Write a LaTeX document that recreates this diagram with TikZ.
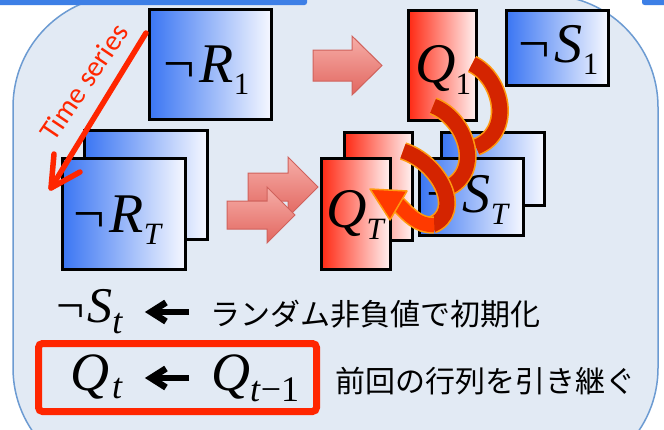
\documentclass[tikz,border=0pt]{standalone}
\usepackage{fontspec}
\setmainfont{Liberation Serif}
\newfontfamily\jpfont{Noto Sans CJK JP}
\newfontfamily\tsfont{Carlito}
\usetikzlibrary{arrows.meta}
\definecolor{bgc}{HTML}{E2EAF4}
\definecolor{bdc}{HTML}{6C9BD2}
\definecolor{barblue}{HTML}{3D7FE6}
\definecolor{boxblue}{HTML}{3B76F3}
\definecolor{boxwhite}{HTML}{F6F8FF}
\definecolor{boxred}{HTML}{FF2A14}
\definecolor{boxpink}{HTML}{FFF2F2}
\definecolor{tsred}{HTML}{FF2600}
\definecolor{patop}{HTML}{F6AEA8}
\definecolor{pabot}{HTML}{E2665F}
\definecolor{paedge}{HTML}{D0625C}
\definecolor{ribedge}{HTML}{FF9A10}
\definecolor{ribdark}{HTML}{D42400}
\definecolor{ribbright}{HTML}{FF3A00}
\newcommand\blab[3]{{\fontsize{56}{56}\selectfont #1\textit{#2}\raisebox{-12pt}{\fontsize{31}{31}\selectfont #3}}}
\tikzset{
  bbox/.style={draw=black, line width=3pt, left color=boxblue, right color=boxwhite, inner sep=0pt},
  rbox/.style={draw=black, line width=3pt, left color=boxred, right color=boxpink, inner sep=0pt},
  lbl/.style={anchor=base west, inner sep=0pt},
  parrow/.style={top color=patop, bottom color=pabot, draw=paedge, line width=1pt},
  ribbon/.style={draw=ribedge, line width=1.6pt, double=ribdark, double distance=15pt},
  ribbonb/.style={draw=ribedge, line width=1.6pt, double=ribbright, double distance=14pt},
  tsline/.style={draw=tsred, line width=5.5pt, line cap=round, line join=round},
  blk/.style={draw=black, line width=6.5pt},
  jp/.style={anchor=west, inner sep=0pt, font=\jpfont\fontsize{30}{30}\selectfont},
}
\begin{document}
\begin{tikzpicture}[x=1pt,y=-1pt]
\useasboundingbox (0,0) rectangle (664,429);
\clip (0,0) rectangle (664,429);
\fill[white] (0,0) rectangle (664,429);
\draw[fill=bgc, draw=bdc, line width=1.5pt, rounded corners=112pt] (13,-5) rectangle (658,480);
\fill[barblue, rounded corners=2.5pt] (-10,-10) rectangle (307,5);
\fill[barblue, rounded corners=2.5pt] (642,-10) rectangle (690,5);

% pink block arrows
\path[parrow] (313,50) -- (352,50) -- (352,36) -- (382,65.5) -- (352,95) -- (352,81) -- (313,81) -- cycle;
\path[parrow] (248,173) -- (288,173) -- (288,157) -- (318,187) -- (288,217) -- (288,201) -- (248,201) -- cycle;
\path[parrow] (227,201) -- (267,201) -- (267,187) -- (295,215) -- (267,243) -- (267,229) -- (227,229) -- cycle;

% boxes
\node[bbox, minimum width=122pt, minimum height=110pt] (r1) at (210.5,64.5) {};
\node[bbox, minimum width=123pt, minimum height=109pt] (rtb) at (146,185) {};
\node[bbox, minimum width=123pt, minimum height=111pt] (rtf) at (124,214) {};
\node[rbox, minimum width=68pt, minimum height=110pt] (q1) at (442.5,65.5) {};
\node[bbox, minimum width=102pt, minimum height=75pt] (s1) at (557.5,48) {};
\node[rbox, minimum width=68pt, minimum height=108pt] (qtb) at (378.5,186.5) {};
\node[rbox, minimum width=69pt, minimum height=111pt] (qtf) at (356,214) {};
\node[bbox, minimum width=103pt, minimum height=73pt] (stb) at (493,169) {};
\node[bbox, minimum width=104pt, minimum height=77pt] (stf) at (471.5,197) {};

% labels
\node[lbl] (lr1) at (163,82) {\blab{¬\hspace{5pt}}{R}{1}};
\node[lbl] (lq1) at (415,82) {\blab{}{Q}{1}};
\node[lbl] (ls1) at (518,62) {\blab{¬\hspace{5pt}}{S}{1}};
\node[lbl] (lrt) at (73,232) {\blab{¬\hspace{5pt}}{R}{\textit{T}}};
\node[lbl] (lqt) at (326,227) {\blab{}{Q}{\textit{T}}};
\node[lbl] (lst) at (426,212) {\blab{¬\hspace{5pt}}{S}{\textit{T}}};

% spiral
\draw[ribbon] (472,64) .. controls (502,78) and (514,132) .. (476,147);
\draw[ribbon] (433,106) .. controls (466,118) and (484,172) .. (447,188);
\draw[ribbon] (403,151) .. controls (440,163) and (464,212) .. (432,225);
\draw[ribbonb] (434,225) .. controls (418,226) and (408,214) .. (398,204);
\coordinate (sp-tip) at (370,189);
\filldraw[fill=ribbright, draw=ribedge, line width=1.5pt, line join=round] (sp-tip) -- (407,191) -- (390,220) -- cycle;

% time series arrow
\coordinate (ts-a) at (146,33);
\coordinate (ts-b) at (51,188);
\coordinate (ts-b1) at (80,172);
\coordinate (ts-b2) at (54,154);
\draw[tsline] (ts-a) -- (ts-b);
\draw[tsline] (ts-b1) -- (ts-b) -- (ts-b2);
\node[font=\tsfont\fontsize{29}{29}\selectfont, text=tsred, rotate=56, inner sep=0pt] (ts) at (84,82) {Time series};

% bottom formulas
\node[lbl] (fs) at (56,322) {{\fontsize{50}{50}\selectfont ¬\hspace{3pt}\textit{S}\raisebox{-11pt}{\fontsize{36}{36}\selectfont\textit{t}}}};
\coordinate (a1s) at (189,312);
\coordinate (a1t) at (151,312);
\coordinate (a1u) at (166,302.5);
\coordinate (a1d) at (166,321.5);
\draw[blk] (a1s) -- (a1t);
\draw[blk, line join=miter] (a1u) -- (a1t) -- (a1d);
\node[jp] (j1) at (210,314) {ランダム非負値で初期化};

\node[draw=tsred, line width=7pt, rounded corners=4pt, minimum width=278pt, minimum height=68pt, inner sep=0pt] (qbox) at (177.5,377.5) {};
\node[lbl] (fq1) at (70,390) {{\fontsize{54}{54}\selectfont\textit{Q}\hspace{3pt}\raisebox{-8pt}{\fontsize{36}{36}\selectfont\textit{t}}}};
\coordinate (a2s) at (189,378);
\coordinate (a2t) at (151,378);
\coordinate (a2u) at (166,368.5);
\coordinate (a2d) at (166,387.5);
\draw[blk] (a2s) -- (a2t);
\draw[blk, line join=miter] (a2u) -- (a2t) -- (a2d);
\node[lbl] (fq2) at (211,390) {{\fontsize{54}{54}\selectfont\textit{Q}\raisebox{-11pt}{\fontsize{36}{36}\selectfont\textit{t}\textup{−1}}}};
\node[jp] (j2) at (335,381.5) {前回の行列を引き継ぐ};
\end{tikzpicture}
\end{document}
